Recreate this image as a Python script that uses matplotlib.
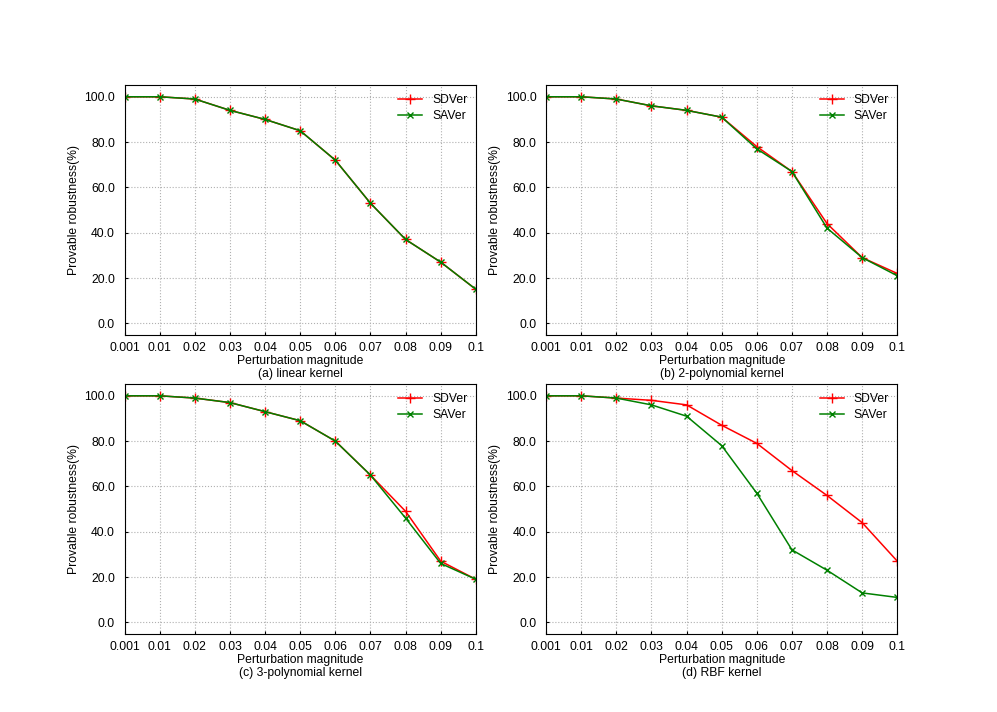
import numpy as np
import matplotlib
matplotlib.use('Agg')
import matplotlib.pyplot as plt
from matplotlib.ticker import FormatStrFormatter

plt.rcParams['font.family'] = ['Liberation Sans', 'DejaVu Sans']
plt.rcParams['font.size'] = 8.7

eps_labels = ['0.001', '0.01', '0.02', '0.03', '0.04', '0.05',
              '0.06', '0.07', '0.08', '0.09', '0.1']

# provable robustness (%) per kernel
lin_sd = [100, 100, 99, 94, 90, 85, 72, 53, 37, 27, 15]
lin_sa = [100, 100, 99, 94, 90, 85, 72, 53, 37, 27, 15]
poly2_sd = [100, 100, 99, 96, 94, 91, 78, 67, 44, 29, 22]
poly2_sa = [100, 100, 99, 96, 94, 91, 77, 67, 42, 29, 21]
poly3_sd = [100, 100, 99, 97, 93, 89, 80, 65, 49, 27, 19]
poly3_sa = [100, 100, 99, 97, 93, 89, 80, 65, 46, 26, 19]
rbf_sd = [100, 100, 99, 98, 96, 87, 79, 67, 56, 44, 27]
rbf_sa = [100, 100, 99, 96, 91, 78, 57, 32, 23, 13, 11]

titles = ['(a) linear kernel', '(b) 2-polynomial kernel',
          '(c) 3-polynomial kernel', '(d) RBF kernel']
series = [(lin_sd, lin_sa), (poly2_sd, poly2_sa),
          (poly3_sd, poly3_sa), (rbf_sd, rbf_sa)]

fig, axes = plt.subplots(2, 2, figsize=(9.97, 7.12), dpi=100)
x = np.arange(len(eps_labels))

for ax, title, (sd, sa) in zip(axes.flat, titles, series):
    ax.plot(x, sd, 'r-', marker='+', markersize=7, linewidth=1.1, label='SDVer')
    ax.plot(x, sa, 'g-', marker='x', markersize=5, linewidth=1.1, label='SAVer')
    ax.set_xticks(x)
    ax.set_xticklabels(eps_labels)
    ax.set_xlim(0, 10)
    ax.set_ylim(-5, 105)
    ax.set_yticks([0, 20, 40, 60, 80, 100])
    ax.yaxis.set_major_formatter(FormatStrFormatter('%.1f'))
    ax.tick_params(axis='x', direction='in', length=2, pad=5)
    ax.tick_params(axis='y', direction='in', length=2, pad=7)
    ax.grid(True, linestyle=':', color='#b0b0b0')
    ax.set_xlabel('Perturbation magnitude\n' + title, labelpad=1, linespacing=1.15)
    ax.set_ylabel('Provable robustness(%)', labelpad=3)
    ax.legend(loc='upper right', frameon=False, labelspacing=0.35,
              borderaxespad=0.3)

plt.savefig('out.png')
